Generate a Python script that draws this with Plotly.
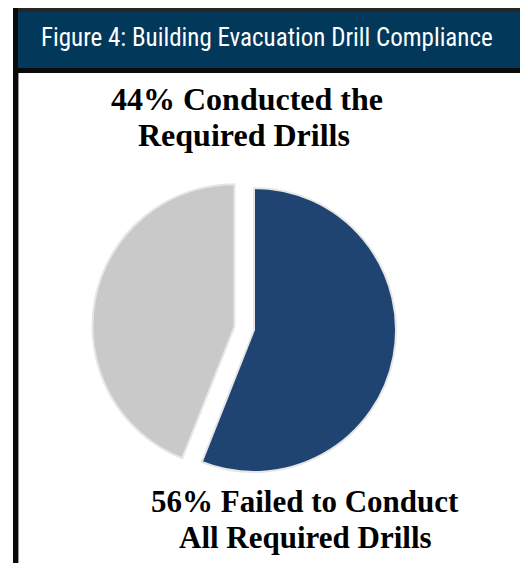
import plotly.graph_objects as go

# ---- data ----
categories = ["Failed to Conduct All Required Drills", "Conducted the Required Drills"]
percent_values = [56, 44]
slice_colors = ["#1f4471", "#c9c9c9"]
title_text = "Figure 4: Building Evacuation Drill Compliance"
label_conducted = ["44% Conducted the", "Required Drills"]
label_failed = ["56% Failed to Conduct", "All Required Drills"]

# the page body has an 8px margin; the figure fills the rest of the window
OFF = 8
W, H = 528 - OFF, 571 - 2 * OFF


def px_x(x):
    return (x - OFF) / W


def px_y(y):
    return 1 - (y - OFF) / H


fig = go.Figure()

# pie geometry: centre (254,330) page px, radius 142 px, pull 0.14
pull = [0, 0.14]
r = 142
half = r * (1 + max(pull))
cx, cy = 254, 330
fig.add_trace(go.Pie(
    labels=categories,
    values=percent_values,
    sort=False,
    direction="clockwise",
    rotation=0,
    pull=pull,
    marker=dict(colors=slice_colors, line=dict(color="#e6e6e6", width=2)),
    textinfo="none",
    hoverinfo="label+percent",
    showlegend=False,
    domain=dict(x=[px_x(cx - half), px_x(cx + half)],
                y=[px_y(cy + half), px_y(cy - half)]),
))

shapes = [
    # dark top edge of the title bar
    dict(type="rect", xref="paper", yref="paper", x0=px_x(13), x1=1,
         y0=px_y(12), y1=1, fillcolor="#262626", line_width=0, layer="below"),
    # title bar
    dict(type="rect", xref="paper", yref="paper", x0=px_x(18), x1=1,
         y0=px_y(68), y1=px_y(12), fillcolor="#02385a", line_width=0, layer="below"),
    # black rule under title bar
    dict(type="rect", xref="paper", yref="paper", x0=px_x(13), x1=1,
         y0=px_y(73), y1=px_y(68), fillcolor="#0a0a0a", line_width=0, layer="below"),
    # left black border
    dict(type="rect", xref="paper", yref="paper", x0=px_x(13), x1=px_x(18),
         y0=0, y1=1, fillcolor="#0a0a0a", line_width=0, layer="below"),
    dict(type="rect", xref="paper", yref="paper", x0=px_x(18), x1=px_x(19),
         y0=0, y1=px_y(73), fillcolor="#9a9a9a", line_width=0, layer="below"),
]

serif = "Liberation Serif, Times New Roman, serif"


def label(text, xc, baseline, fs):
    return dict(text="<b>%s</b>" % text, xref="paper", yref="paper",
                x=px_x(xc), y=px_y(baseline - 0.33 * fs), xanchor="center", yanchor="middle",
                showarrow=False, font=dict(family=serif, size=fs, color="#000000"))


annotations = [
    dict(text=title_text, xref="paper", yref="paper", x=px_x(39), y=px_y(37),
         xanchor="left", yanchor="middle", showarrow=False,
         font=dict(family="Roboto Condensed, Liberation Sans Narrow, sans-serif",
                   size=25, color="#ffffff")),
    label(label_conducted[0], 247, 110, 32),
    label(label_conducted[1], 244, 146, 32),
    label(label_failed[0], 305, 512, 31),
    label(label_failed[1], 305, 548, 31),
]

fig.update_layout(
    width=W, height=H,
    margin=dict(l=0, r=0, t=0, b=0),
    paper_bgcolor="#ffffff",
    plot_bgcolor="#ffffff",
    shapes=shapes,
    annotations=annotations,
)

fig.write_html("out.html")
